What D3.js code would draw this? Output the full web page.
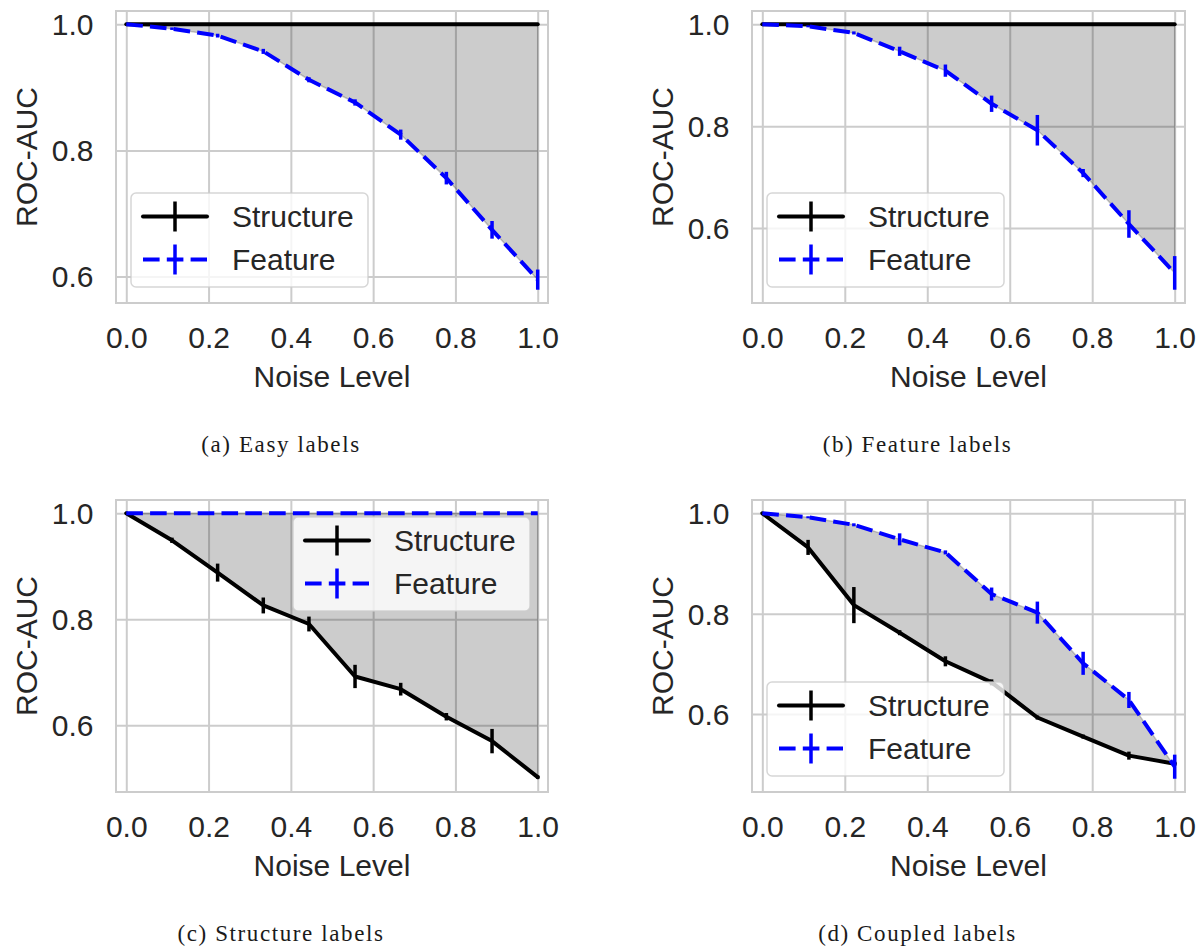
<!DOCTYPE html>
<html>
<head>
<meta charset="utf-8">
<script src="https://cdn.jsdelivr.net/npm/d3@7"></script>
<style>
  html, body { margin: 0; padding: 0; background: #ffffff; }
  svg { display: block; }
</style>
</head>
<body>
<svg id="chart" width="1200" height="947"></svg>
<script>
// Noise levels shared by every panel
const noise = [0.0, 0.111, 0.222, 0.333, 0.444, 0.556, 0.667, 0.778, 0.889, 1.0];
const yTicks = [0.6, 0.8, 1.0];
const xTicks = [0.0, 0.2, 0.4, 0.6, 0.8, 1.0];
const seriesNames = ["Structure", "Feature"];

// (a) Easy labels
const easyStructure    = [1, 1, 1, 1, 1, 1, 1, 1, 1, 1];
const easyStructureErr = [0, 0, 0, 0, 0, 0, 0, 0, 0, 0];
const easyFeature      = [1.0, 0.993, 0.982, 0.957, 0.912, 0.876, 0.825, 0.756, 0.674, 0.595];
const easyFeatureErr   = [0, 0.002, 0.003, 0.004, 0.004, 0.005, 0.008, 0.010, 0.014, 0.016];

// (b) Feature labels
const featStructure    = [1, 1, 1, 1, 1, 1, 1, 1, 1, 1];
const featStructureErr = [0, 0, 0, 0, 0, 0, 0, 0, 0, 0];
const featFeature      = [1.0, 0.996, 0.983, 0.947, 0.909, 0.844, 0.792, 0.708, 0.608, 0.512];
const featFeatureErr   = [0, 0.002, 0.003, 0.009, 0.012, 0.016, 0.030, 0.008, 0.027, 0.033];

// (c) Structure labels
const structStructure    = [1.0, 0.949, 0.888, 0.826, 0.791, 0.692, 0.668, 0.616, 0.570, 0.502];
const structStructureErr = [0, 0.005, 0.017, 0.015, 0.014, 0.022, 0.012, 0.007, 0.023, 0.003];
const structFeature      = [1, 1, 1, 1, 1, 1, 1, 1, 1, 1];
const structFeatureErr   = [0, 0, 0, 0, 0, 0, 0, 0, 0, 0];

// (d) Coupled labels
const coupledStructure    = [1.0, 0.932, 0.817, 0.762, 0.705, 0.663, 0.593, 0.555, 0.517, 0.501];
const coupledStructureErr = [0, 0.015, 0.036, 0.005, 0.010, 0.006, 0.004, 0.004, 0.008, 0.004];
const coupledFeature      = [1.0, 0.992, 0.977, 0.948, 0.922, 0.839, 0.802, 0.701, 0.628, 0.495];
const coupledFeatureErr   = [0, 0.002, 0.003, 0.012, 0.004, 0.013, 0.022, 0.023, 0.016, 0.024];

const captions = ["(a) Easy labels", "(b) Feature labels", "(c) Structure labels", "(d) Coupled labels"];

const panels = [
  { box: { left: 116, right: 548, top: 11, bottom: 303 }, s: easyStructure, se: easyStructureErr, f: easyFeature, fe: easyFeatureErr, legend: "lower left", caption: captions[0] },
  { box: { left: 752, right: 1185, top: 11, bottom: 303 }, s: featStructure, se: featStructureErr, f: featFeature, fe: featFeatureErr, legend: "lower left", caption: captions[1] },
  { box: { left: 116, right: 548, top: 500, bottom: 792 }, s: structStructure, se: structStructureErr, f: structFeature, fe: structFeatureErr, legend: "upper right", caption: captions[2] },
  { box: { left: 752, right: 1185, top: 500, bottom: 792 }, s: coupledStructure, se: coupledStructureErr, f: coupledFeature, fe: coupledFeatureErr, legend: "lower left", caption: captions[3] }
];

const SANS = "'Liberation Sans', Arial, Helvetica, sans-serif";
const SERIF = "'Liberation Serif', 'DejaVu Serif', serif";
const TEXT = "#262626";
const GRID = "#cccccc";
const FS = 30;
const LW = 4;
const COLORS = ["#000000", "#0000ff"];
const DASH = "16.6,7.2";

const svg = d3.select("#chart");

panels.forEach((p, pi) => {
  const b = p.box;
  const g = svg.append("g");

  // x scale with a small margin around the noise range
  const xExt = d3.extent(noise);
  const xPad = 0.025 * (xExt[1] - xExt[0]);
  const x = d3.scaleLinear().domain([xExt[0] - xPad, xExt[1] + xPad]).range([b.left, b.right]);

  // y scale autoscaled from values and error bars, 5% margins
  const lows = p.s.map((v, i) => v - p.se[i]).concat(p.f.map((v, i) => v - p.fe[i]));
  const highs = p.s.map((v, i) => v + p.se[i]).concat(p.f.map((v, i) => v + p.fe[i]));
  const yLo = d3.min(lows), yHi = d3.max(highs);
  const yPad = 0.05 * (yHi - yLo);
  const y = d3.scaleLinear().domain([yLo - yPad, yHi + yPad]).range([b.bottom, b.top]);

  const w = b.right - b.left, h = b.bottom - b.top;

  // grid + tick labels via d3 axes
  const xAxis = d3.axisBottom(x).tickValues(xTicks).tickFormat(d3.format(".1f"))
    .tickSizeInner(-h).tickSizeOuter(0).tickPadding(24);
  const gx = g.append("g").attr("transform", `translate(0,${b.bottom})`).call(xAxis);
  const yAxis = d3.axisLeft(y).tickValues(yTicks).tickFormat(d3.format(".1f"))
    .tickSizeInner(-w).tickSizeOuter(0).tickPadding(22.5);
  const gy = g.append("g").attr("transform", `translate(${b.left},0)`).call(yAxis);
  [gx, gy].forEach(ax => {
    ax.select(".domain").remove();
    ax.attr("font-family", null).attr("font-size", null);
    ax.selectAll(".tick line").attr("stroke", GRID).attr("stroke-width", 2);
    ax.selectAll(".tick text").attr("fill", TEXT).style("font-family", SANS).style("font-size", FS + "px");
  });
  gy.selectAll(".tick text").attr("dy", "0.35em");

  // frame
  g.append("rect").attr("x", b.left).attr("y", b.top).attr("width", w).attr("height", h)
    .attr("fill", "none").attr("stroke", GRID).attr("stroke-width", 2);

  // shaded gap between the two curves
  const rows = noise.map((n, i) => ({ n, s: p.s[i], f: p.f[i] }));
  const area = d3.area().x(d => x(d.n)).y0(d => y(d.s)).y1(d => y(d.f));
  g.append("path").attr("d", area(rows))
    .attr("fill", "#000").attr("fill-opacity", 0.2)
    .attr("stroke", "#000").attr("stroke-opacity", 0.2).attr("stroke-width", 1.5);

  // series lines with error bars
  const series = [
    { vals: p.s, errs: p.se, color: COLORS[0], dash: null },
    { vals: p.f, errs: p.fe, color: COLORS[1], dash: DASH }
  ];
  series.forEach(sr => {
    const line = d3.line().x((d, i) => x(noise[i])).y(d => y(d));
    g.append("path").attr("d", line(sr.vals))
      .attr("fill", "none").attr("stroke", sr.color).attr("stroke-width", LW)
      .attr("stroke-linejoin", "round").attr("stroke-linecap", sr.dash ? "butt" : "round")
      .attr("stroke-dasharray", sr.dash);
    g.append("g").selectAll("line").data(sr.vals.map((v, i) => ({ n: noise[i], v, e: sr.errs[i] })).filter(d => d.e > 0))
      .join("line")
      .attr("x1", d => x(d.n)).attr("x2", d => x(d.n))
      .attr("y1", d => y(d.v - d.e)).attr("y2", d => y(d.v + d.e))
      .attr("stroke", sr.color).attr("stroke-width", 3.5);
  });

  // legend
  const lw = 237, lh = 94, pad = 16;
  const lx = p.legend === "upper right" ? b.right - pad - 2 - lw : b.left + pad - 1;
  const ly = p.legend === "upper right" ? b.top + pad + 1 : b.bottom - pad - lh;
  const lg = g.append("g").attr("transform", `translate(${lx},${ly})`);
  lg.append("rect").attr("width", lw).attr("height", lh).attr("rx", 5)
    .attr("fill", "#ffffff").attr("fill-opacity", 0.8)
    .attr("stroke", GRID).attr("stroke-opacity", 0.8).attr("stroke-width", 1.5);
  seriesNames.forEach((name, k) => {
    const ry = 23.5 + k * 43;
    const item = lg.append("g");
    item.append("line").attr("x1", 12).attr("x2", 76).attr("y1", ry).attr("y2", ry)
      .attr("stroke", COLORS[k]).attr("stroke-width", LW)
      .attr("stroke-linecap", k === 0 ? "round" : "butt")
      .attr("stroke-dasharray", k === 0 ? null : DASH);
    item.append("line").attr("x1", 44).attr("x2", 44).attr("y1", ry - 15).attr("y2", ry + 15)
      .attr("stroke", COLORS[k]).attr("stroke-width", 3.5);
    item.append("text").attr("x", 101).attr("y", ry + 10.7)
      .attr("fill", TEXT).style("font-family", SANS).style("font-size", FS + "px").text(name);
  });

  // axis titles
  g.append("text").attr("x", (b.left + b.right) / 2).attr("y", b.bottom + 84)
    .attr("text-anchor", "middle").attr("fill", TEXT)
    .style("font-family", SANS).style("font-size", FS + "px").text("Noise Level");
  g.append("text").attr("transform", `translate(${b.left - 79.5},${(b.top + b.bottom) / 2}) rotate(-90)`)
    .attr("text-anchor", "middle").attr("fill", TEXT)
    .style("font-family", SANS).style("font-size", FS + "px").text("ROC-AUC");

  // subfigure caption
  g.append("text").attr("x", (b.left + b.right) / 2 - 51).attr("y", b.bottom + 149)
    .attr("text-anchor", "middle").attr("fill", "#1a1a1a")
    .style("font-family", SERIF).style("font-size", "23px").style("letter-spacing", "1.6px")
    .text(p.caption);
});
</script>
</body>
</html>
